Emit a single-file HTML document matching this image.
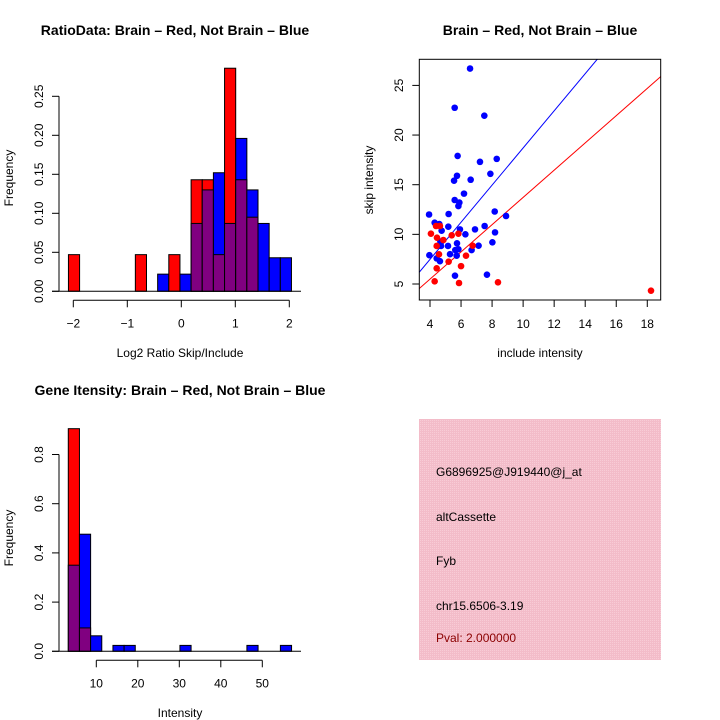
<!DOCTYPE html>
<html><head><meta charset="utf-8"><style>
html,body{margin:0;padding:0;background:#fff}
svg{display:block;font-family:"Liberation Sans",sans-serif}
</style></head><body>
<svg id="c" width="720" height="720" viewBox="0 0 720 720">
<defs><pattern id="pk" width="2" height="2" patternUnits="userSpaceOnUse"><rect width="2" height="2" fill="#f3bcc9"/><rect width="1" height="1" fill="#f8ccd6"/></pattern></defs>
<g id="p1"></g>
<g id="p2"></g>
<g id="p3"></g>
<g>
<rect x="419" y="419" width="242" height="241" fill="url(#pk)"/>
<text x="436" y="476" font-size="12">G6896925@J919440@j_at</text>
<text x="436" y="521" font-size="12">altCassette</text>
<text x="436" y="565" font-size="12">Fyb</text>
<text x="436" y="610" font-size="12">chr15.6506-3.19</text>
<text x="436" y="642" font-size="12" fill="#8b0000">Pval: 2.000000</text>
</g>
</svg>
<script>
// ---- Plot 1 data ----
const ratioBinStart = -2.09, ratioBinWidth = 0.2065;
const ratioRed  = [0.047,0,0,0,0,0,0.047,0,0,0.047,0,0.143,0.143,0.047,0.286,0.143,0.095,0,0,0];
const ratioBlue = [0,0,0,0,0,0,0,0,0.022,0,0.022,0.087,0.13,0.152,0.087,0.196,0.13,0.087,0.043,0.043];
const ratioXTicks = [-2,-1,0,1,2];
const ratioYTicks = ["0.00","0.05","0.10","0.15","0.20","0.25"];
// ---- Plot 2 data ----
const blueInclude = [6.58,5.59,7.5,5.78,7.22,8.3,7.89,5.74,5.55,6.62,6.19,5.59,5.89,5.83,3.94,5.2,8.17,8.9,4.3,4.6,5.18,4.75,5.93,6.9,7.52,6.28,8.19,4.67,5.74,8.02,5.16,4.71,7.13,6.68,5.63,5.83,5.29,5.72,3.96,4.43,4.64,5.61,7.67];
const blueSkip    = [26.7,22.75,21.95,17.9,17.3,17.6,16.1,15.9,15.4,15.5,14.1,13.46,13.2,12.85,12.0,12.05,12.3,11.85,11.17,11.04,10.77,10.37,10.5,10.5,10.84,10.0,10.2,9.26,9.1,9.2,8.83,8.83,8.86,8.42,8.42,8.5,8.0,7.85,7.9,7.58,7.3,5.84,5.94];
const redInclude = [4.06,4.39,4.64,4.45,4.43,4.86,5.4,5.83,6.75,4.58,5.2,6.32,4.43,6.0,4.3,5.87,8.38,18.24];
const redSkip    = [10.07,10.84,10.84,9.66,8.83,9.43,9.9,10.07,8.86,7.99,7.25,7.85,6.58,6.8,5.27,5.1,5.17,4.33];
const blueSlope = 1.87, redSlope = 1.372;
const scatXTicks = [4,6,8,10,12,14,16,18];
const scatYTicks = [5,10,15,20,25];
// ---- Plot 3 data ----
const intBinStart = 3.25, intBinWidth = 2.69;
const intRed  = [0.905,0.095,0,0,0,0,0,0,0,0,0,0,0,0,0,0,0,0,0,0];
const intBlue = [0.35,0.476,0.063,0,0.024,0.024,0,0,0,0,0.024,0,0,0,0,0,0.024,0,0,0.024];
const intXTicks = [10,20,30,40,50];
const intYTicks = ["0.0","0.2","0.4","0.6","0.8"];

const NS="http://www.w3.org/2000/svg";
function mk(parent,tag,attrs,text){const e=document.createElementNS(NS,tag);for(const k in attrs)e.setAttribute(k,attrs[k]);if(text!==undefined)e.textContent=text;parent.appendChild(e);return e;}

function hist(g,o){
  const sx=v=>o.x0px+(v-o.x0)*o.kx, sy=v=>o.y0px-v*o.ky;
  for(let i=0;i<o.red.length;i++){
    const r=o.red[i], b=o.blue[i]; if(!r&&!b)continue;
    const xl=sx(o.start+i*o.w), xr=sx(o.start+(i+1)*o.w);
    const hi=Math.max(r,b), lo=Math.min(r,b);
    const bar=mk(g,'rect',{x:xl,y:sy(hi),width:xr-xl,height:sy(0)-sy(hi),fill:r>b?'#ff0000':'#0000ff',stroke:'#000','stroke-width':1});
    
    
    if(lo>0){
      const ov=mk(g,'rect',{x:xl,y:sy(lo),width:xr-xl,height:sy(0)-sy(lo),fill:'#800080',stroke:'#000','stroke-width':1});
      
      
    }
  }
  const base=mk(g,'line',{x1:52,x2:301,y1:sy(0),y2:sy(0),stroke:'#000'});
  
  
  const ax=mk(g,'g',{});
  
  
  const ay=o.y0px+9;
  mk(ax,'line',{x1:sx(o.xt[0]),x2:sx(o.xt[o.xt.length-1]),y1:ay,y2:ay,stroke:'#000'});
  o.xt.forEach(t=>{mk(ax,'line',{x1:sx(t),x2:sx(t),y1:ay,y2:ay+7,stroke:'#000'});
    mk(ax,'text',{x:sx(t),y:ay+27,'font-size':12,'text-anchor':'middle'},String(t).replace('-','\u2212'));});
  const yx=mk(g,'g',{});
  
  
  const yv=o.yt.map(Number);
  mk(yx,'line',{x1:59,x2:59,y1:sy(yv[0]),y2:sy(yv[yv.length-1]),stroke:'#000'});
  o.yt.forEach(t=>{const y=sy(Number(t));mk(yx,'line',{x1:52,x2:59,y1:y,y2:y,stroke:'#000'});
    mk(yx,'text',{x:0,y:0,'font-size':12,'text-anchor':'middle',transform:`translate(43 ${y}) rotate(-90)`},t);});
}

// Plot 1
const g1=document.getElementById('p1');
hist(g1,{red:ratioRed,blue:ratioBlue,start:ratioBinStart,w:ratioBinWidth,x0:-2,x0px:73.3,kx:54,y0px:291.3,ky:780,xt:ratioXTicks,yt:ratioYTicks});
let t=mk(g1,'text',{x:175,y:35,'font-size':14,'font-weight':'bold','text-anchor':'middle'},'RatioData: Brain \u2013 Red, Not Brain \u2013 Blue');
 
t=mk(g1,'text',{x:180,y:357,'font-size':12,'text-anchor':'middle'},'Log2 Ratio Skip/Include');
 
t=mk(g1,'text',{x:0,y:0,'font-size':12,'text-anchor':'middle',transform:'translate(13 178) rotate(-90)'},'Frequency');
 

// Plot 3
const g3=document.getElementById('p3');
hist(g3,{red:intRed,blue:intBlue,start:intBinStart,w:intBinWidth,x0:10,x0px:96.3,kx:4.15,y0px:651.3,ky:246,xt:intXTicks,yt:intYTicks});
t=mk(g3,'text',{x:180,y:395,'font-size':14,'font-weight':'bold','text-anchor':'middle'},'Gene Itensity: Brain \u2013 Red, Not Brain \u2013 Blue');
 
t=mk(g3,'text',{x:180,y:717,'font-size':12,'text-anchor':'middle'},'Intensity');
 
t=mk(g3,'text',{x:0,y:0,'font-size':12,'text-anchor':'middle',transform:'translate(13 538) rotate(-90)'},'Frequency');
 

// Plot 2
const g2=document.getElementById('p2');
const L=419.3,R=660.7,T=59.3,B=300;
const sx=v=>430+(v-4)*15.52, sy=v=>284-(v-5)*9.93;
const xmin=4+(L-430)/15.52, xmax=4+(R-430)/15.52;
const cp=mk(g2,'clipPath',{id:'clp'}); mk(cp,'rect',{x:L,y:T,width:R-L,height:B-T});
const lines=mk(g2,'g',{'clip-path':'url(#clp)'});
let ln=mk(lines,'line',{x1:sx(xmin),y1:sy(blueSlope*xmin),x2:sx(xmax),y2:sy(blueSlope*xmax),stroke:'#0000ff','stroke-width':1});
 
ln=mk(lines,'line',{x1:sx(xmin),y1:sy(redSlope*xmin),x2:sx(xmax),y2:sy(redSlope*xmax),stroke:'#ff0000','stroke-width':1});
 
blueInclude.forEach((x,i)=>{const c=mk(g2,'circle',{cx:sx(x),cy:sy(blueSkip[i]),r:3.3,fill:'#0000ff'});
   });
redInclude.forEach((x,i)=>{const c=mk(g2,'circle',{cx:sx(x),cy:sy(redSkip[i]),r:3.3,fill:'#ff0000'});
   });
const box=mk(g2,'rect',{x:L,y:T,width:R-L,height:B-T,fill:'none',stroke:'#000'});
 
const sxa=mk(g2,'g',{});  
scatXTicks.forEach(v=>{mk(sxa,'line',{x1:sx(v),x2:sx(v),y1:B,y2:B+7,stroke:'#000'});
  mk(sxa,'text',{x:sx(v),y:B+28,'font-size':12,'text-anchor':'middle'},v);});
const sya=mk(g2,'g',{});  
scatYTicks.forEach(v=>{mk(sya,'line',{x1:L-7,x2:L,y1:sy(v),y2:sy(v),stroke:'#000'});
  mk(sya,'text',{x:0,y:0,'font-size':12,'text-anchor':'middle',transform:`translate(403 ${sy(v)}) rotate(-90)`},v);});
t=mk(g2,'text',{x:540,y:35,'font-size':14,'font-weight':'bold','text-anchor':'middle'},'Brain \u2013 Red, Not Brain \u2013 Blue');
 
t=mk(g2,'text',{x:540,y:357,'font-size':12,'text-anchor':'middle'},'include intensity');
 
t=mk(g2,'text',{x:0,y:0,'font-size':12,'text-anchor':'middle',transform:'translate(373 180) rotate(-90)'},'skip intensity');
 
</script>
</body></html>
